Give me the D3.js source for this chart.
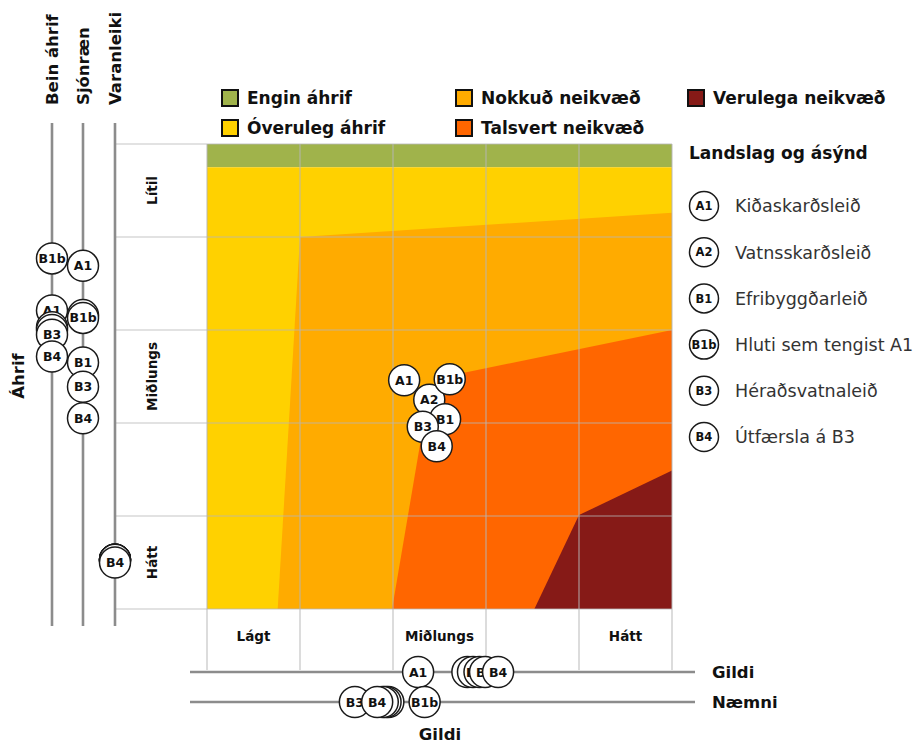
<!DOCTYPE html>
<html lang="is">
<head>
<meta charset="utf-8" />
<script src="https://d3js.org/d3.v7.min.js"></script>
<style>
  body { margin: 0; background: #fff; }
  text { font-family: "DejaVu Sans", sans-serif; }
</style>
</head>
<body>
<div id="chart"></div>
<script>
// options (routes)
var options = ["A1", "A2", "B1", "B1b", "B3", "B4"];
var optionNames = ["Kiðaskarðsleið", "Vatnsskarðsleið", "Efribyggðarleið",
  "Hluti sem tengist A1", "Héraðsvatnaleið", "Útfærsla á B3"];

// combined position in the matrix (x = gildi, y = áhrif), 0..5
var matrixX = [2.12, 2.39, 2.56, 2.61, 2.32, 2.47];
var matrixY = [2.54, 2.75, 2.96, 2.53, 3.04, 3.25];

// left axes (áhrif)
var beinAhrif = [1.79, 1.97, 2.0, 1.23, 2.05, 2.285];
var sjonraen = [1.31, 1.84, 2.35, 1.87, 2.61, 2.95];
var varanleiki = [4.47, 4.47, 4.47, 4.47, 4.47, 4.5];

// bottom axes
var gildi = [2.27, 2.80, 2.86, 2.93, 2.99, 3.13];
var naemni = [1.95, 1.92, 1.89, 2.34, 1.59, 1.83];

var rowLabels = ["Lítil", "Miðlungs", "Hátt"];
var colLabels = ["Lágt", "Miðlungs", "Hátt"];

var legendLabels = ["Engin áhrif", "Óveruleg áhrif", "Nokkuð neikvæð", "Talsvert neikvæð", "Verulega neikvæð"];
var legendColors = ["#a0b34b", "#ffd100", "#ffab00", "#ff6600", "#861a17"];

// zone outlines in matrix units
var zoneGreen = [[0, 0], [5, 0], [5, 0.25], [0, 0.25]];
var zoneYellow = [[0, 0.25], [5, 0.25], [5, 5], [0, 5]];
var zoneOrange = [[1, 1.0], [5, 0.74], [5, 5], [0.76, 5]];
var zoneRed = [[5, 2.0], [2.62, 2.49], [2.33, 3.0], [1.99, 5], [5, 5]];
var zoneDark = [[5, 3.51], [4, 3.99], [3.52, 5], [5, 5]];

var width = 921, height = 744;

var svg = d3.select("#chart").append("svg")
  .attr("width", width)
  .attr("height", height);

var x = d3.scaleLinear().domain([0, 5]).range([207, 672]);
var y = d3.scaleLinear().domain([0, 5]).range([144, 609]);

var line = d3.line().x(function(d) { return x(d[0]); }).y(function(d) { return y(d[1]); });

var zones = [zoneGreen, zoneYellow, zoneOrange, zoneRed, zoneDark];

svg.selectAll("path.zone")
  .data(zones)
  .enter().append("path")
  .attr("class", "zone")
  .attr("d", function(d) { return line(d) + "Z"; })
  .attr("fill", function(d, i) { return legendColors[i]; });

// grid
var ticks = d3.range(0, 6);
svg.selectAll("line.hgrid")
  .data(ticks)
  .enter().append("line")
  .attr("x1", 115).attr("x2", x(5))
  .attr("y1", function(d) { return y(d); })
  .attr("y2", function(d) { return y(d); })
  .attr("stroke", "#b5b5b5")
  .attr("stroke-opacity", 0.8)
  .attr("stroke-width", 1.2);

svg.selectAll("line.vgrid")
  .data(ticks)
  .enter().append("line")
  .attr("x1", function(d) { return x(d); })
  .attr("x2", function(d) { return x(d); })
  .attr("y1", y(0))
  .attr("y2", 670)
  .attr("stroke", "#b5b5b5")
  .attr("stroke-opacity", 0.8)
  .attr("stroke-width", 1.2);

// row labels (left) and column labels (bottom)
var rowPos = [0.5, 2.5, 4.5];
svg.selectAll("text.row")
  .data(rowLabels)
  .enter().append("text")
  .attr("transform", function(d, i) { return "translate(157," + y(rowPos[i]) + ") rotate(-90)"; })
  .attr("text-anchor", "middle")
  .attr("font-size", 13.5)
  .attr("font-weight", 700)
  .attr("fill", "#111")
  .text(function(d) { return d; });

svg.selectAll("text.col")
  .data(colLabels)
  .enter().append("text")
  .attr("x", function(d, i) { return x(rowPos[i]); })
  .attr("y", 641)
  .attr("text-anchor", "middle")
  .attr("font-size", 13.5)
  .attr("font-weight", 700)
  .attr("fill", "#111")
  .text(function(d) { return d; });

// vertical axes on the left
var leftAxes = [
  { name: "Bein áhrif", x: 52, values: beinAhrif },
  { name: "Sjónræn", x: 83, values: sjonraen },
  { name: "Varanleiki", x: 115, values: varanleiki }
];
// horizontal axes at the bottom
var bottomAxes = [
  { name: "Gildi", y: 672, values: gildi },
  { name: "Næmni", y: 702, values: naemni }
];

leftAxes.forEach(function(a) {
  svg.append("line")
    .attr("x1", a.x).attr("x2", a.x)
    .attr("y1", 123).attr("y2", 626)
    .attr("stroke", "#8c8c8c").attr("stroke-width", 2.6);
  svg.append("text")
    .attr("transform", "translate(" + (a.x + 6) + ",105) rotate(-90)")
    .attr("font-size", 16.5)
    .attr("font-weight", 700)
    .attr("fill", "#111")
    .text(a.name);
});

bottomAxes.forEach(function(a) {
  svg.append("line")
    .attr("x1", 190).attr("x2", 695)
    .attr("y1", a.y).attr("y2", a.y)
    .attr("stroke", "#8c8c8c").attr("stroke-width", 2.6);
  svg.append("text")
    .attr("x", 712).attr("y", a.y + 6)
    .attr("font-size", 16.5)
    .attr("font-weight", 700)
    .attr("fill", "#111")
    .text(a.name);
});

svg.append("text")
  .attr("transform", "translate(24,376) rotate(-90)")
  .attr("text-anchor", "middle")
  .attr("font-size", 16.5)
  .attr("font-weight", 700)
  .attr("fill", "#111")
  .text("Áhrif");

svg.append("text")
  .attr("x", 440).attr("y", 740)
  .attr("text-anchor", "middle")
  .attr("font-size", 16.5)
  .attr("font-weight", 700)
  .attr("fill", "#111")
  .text("Gildi");

function drawMarkers(points) {
  var g = svg.append("g");
  var m = g.selectAll("g.m")
    .data(points)
    .enter().append("g")
    .attr("transform", function(d) { return "translate(" + d.cx + "," + d.cy + ")"; });
  m.append("circle")
    .attr("r", 15.5)
    .attr("fill", "#fff")
    .attr("stroke", "#1a1a1a")
    .attr("stroke-width", 1.5);
  m.append("text")
    .attr("text-anchor", "middle")
    .attr("dy", "0.36em")
    .attr("font-size", 12.5)
    .attr("font-weight", 700)
    .attr("fill", "#111")
    .text(function(d) { return d.id; });
}

leftAxes.forEach(function(a) {
  drawMarkers(options.map(function(id, i) { return { id: id, cx: a.x, cy: y(a.values[i]) }; }));
});
bottomAxes.forEach(function(a) {
  drawMarkers(options.map(function(id, i) { return { id: id, cx: x(a.values[i]), cy: a.y }; }));
});
drawMarkers(options.map(function(id, i) { return { id: id, cx: x(matrixX[i]), cy: y(matrixY[i]) }; }));

// colour legend
var legendPos = [[222, 98], [222, 128], [456, 98], [456, 128], [688, 98]];
var lg = svg.selectAll("g.legend")
  .data(legendLabels)
  .enter().append("g")
  .attr("transform", function(d, i) { return "translate(" + legendPos[i][0] + "," + legendPos[i][1] + ")"; });
lg.append("rect")
  .attr("x", 0).attr("y", -8)
  .attr("width", 16).attr("height", 16)
  .attr("fill", function(d, i) { return legendColors[i]; })
  .attr("stroke", "#111").attr("stroke-width", 2);
lg.append("text")
  .attr("x", 25).attr("dy", "0.36em")
  .attr("font-size", 17)
  .attr("font-weight", 700)
  .attr("fill", "#111")
  .text(function(d) { return d; });

// option legend
svg.append("text")
  .attr("x", 689).attr("y", 159)
  .attr("font-size", 17)
  .attr("font-weight", 700)
  .attr("fill", "#111")
  .text("Landslag og ásýnd");

var ol = svg.selectAll("g.opt")
  .data(options)
  .enter().append("g")
  .attr("transform", function(d, i) { return "translate(704," + (206 + i * 46.2) + ")"; });
ol.append("circle")
  .attr("r", 14.5)
  .attr("fill", "#fff")
  .attr("stroke", "#1a1a1a")
  .attr("stroke-width", 1.5);
ol.append("text")
  .attr("text-anchor", "middle")
  .attr("dy", "0.36em")
  .attr("font-size", 11.5)
  .attr("font-weight", 700)
  .attr("fill", "#111")
  .text(function(d) { return d; });
ol.append("text")
  .attr("x", 31)
  .attr("dy", "0.36em")
  .attr("font-size", 17.5)
  .attr("fill", "#333")
  .text(function(d, i) { return optionNames[i]; });
</script>
</body>
</html>
